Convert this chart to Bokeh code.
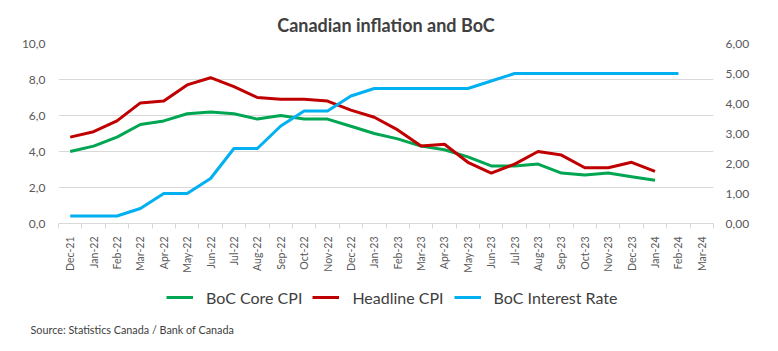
from bokeh.plotting import figure
from bokeh.models import (Range1d, LinearAxis, FixedTicker, Legend, LegendItem, Label)
from bokeh.layouts import column
from bokeh.embed import file_html
from bokeh.resources import INLINE
import math

# ---- data ----
months = ["Dec-21", "Jan-22", "Feb-22", "Mar-22", "Apr-22", "May-22", "Jun-22", "Jul-22",
          "Aug-22", "Sep-22", "Oct-22", "Nov-22", "Dec-22", "Jan-23", "Feb-23", "Mar-23",
          "Apr-23", "May-23", "Jun-23", "Jul-23", "Aug-23", "Sep-23", "Oct-23", "Nov-23",
          "Dec-23", "Jan-24", "Feb-24", "Mar-24"]
core_cpi = [4.0, 4.3, 4.8, 5.5, 5.7, 6.1, 6.2, 6.1, 5.8, 6.0, 5.8, 5.8, 5.4, 5.0, 4.7, 4.3,
            4.1, 3.7, 3.2, 3.2, 3.3, 2.8, 2.7, 2.8, 2.6, 2.4]
headline_cpi = [4.8, 5.1, 5.7, 6.7, 6.8, 7.7, 8.1, 7.6, 7.0, 6.9, 6.9, 6.8, 6.3, 5.9, 5.2, 4.3,
                4.4, 3.4, 2.8, 3.3, 4.0, 3.8, 3.1, 3.1, 3.4, 2.9]
interest_rate = [0.25, 0.25, 0.25, 0.5, 1.0, 1.0, 1.5, 2.5, 2.5, 3.25, 3.75, 3.75, 4.25, 4.5,
                 4.5, 4.5, 4.5, 4.5, 4.75, 5.0, 5.0, 5.0, 5.0, 5.0, 5.0, 5.0, 5.0]
left_ticks = [0, 2, 4, 6, 8, 10]
left_tick_labels = ["0,0", "2,0", "4,0", "6,0", "8,0", "10,0"]
right_ticks = [0, 1, 2, 3, 4, 5, 6]
right_tick_labels = ["0,00", "1,00", "2,00", "3,00", "4,00", "5,00", "6,00"]
title_text = "Canadian inflation and BoC"
source_text = "Source: Statistics Canada / Bank of Canada"
series_names = ["BoC Core CPI", "Headline CPI", "BoC Interest Rate"]
series_colors = ["#00a651", "#c00000", "#00b0f0"]

FONT = "Lato"
TXT = "#595959"
DARK = "#404040"
GRID = "#d9d9d9"

W = 778
H_TOP = 275
H_BOT = 351 - H_TOP

n = len(months)
p = figure(width=W, height=H_TOP, output_backend="svg", toolbar_location=None,
           x_range=Range1d(0, n), y_range=Range1d(0, 10),
           min_border_left=58, min_border_right=65, min_border_top=43,
           min_border_bottom=H_TOP - 224,
           outline_line_color=None, background_fill_color="white", border_fill_color="white")
p.frame_align = False
p.extra_y_ranges = {"rate": Range1d(0, 6)}

# title
p.title.text = title_text
p.title.align = "center"
p.title.offset = 2
p.title.text_font = FONT
p.title.text_font_style = "bold"
p.title.text_font_size = "18px"
p.title.text_color = DARK
p.title.standoff = 15

xc = [i + 0.5 for i in range(n)]

r1 = p.line(xc[:len(core_cpi)], core_cpi, line_color=series_colors[0], line_width=3,
            line_join="round")
r2 = p.line(xc[:len(headline_cpi)], headline_cpi, line_color=series_colors[1], line_width=3,
            line_join="round")
r3 = p.line(xc[:len(interest_rate)], interest_rate, line_color=series_colors[2], line_width=3,
            line_join="round", y_range_name="rate")

# x axis
xa = p.xaxis[0]
xa.ticker = FixedTicker(ticks=xc, minor_ticks=list(range(n + 1)))
xa.major_label_overrides = {x: m for x, m in zip(xc, months)}
xa.major_label_orientation = math.pi / 2
xa.major_tick_line_color = None
xa.major_tick_out = 0
xa.major_tick_in = 0
xa.minor_tick_line_color = GRID
xa.minor_tick_in = 0
xa.minor_tick_out = 5
xa.axis_line_color = GRID
xa.major_label_text_font = FONT
xa.major_label_text_font_size = "10.5px"
xa.major_label_text_color = TXT
xa.major_label_standoff = 8
p.xgrid.visible = False

# left axis
ya = p.yaxis[0]
ya.ticker = FixedTicker(ticks=left_ticks)
ya.major_label_overrides = {t: s for t, s in zip(left_ticks, left_tick_labels)}
ya.axis_line_color = None
ya.major_tick_line_color = None
ya.major_tick_out = 0
ya.major_tick_in = 0
ya.minor_tick_line_color = None
ya.major_label_text_font = FONT
ya.major_label_text_font_size = "12px"
ya.major_label_text_color = TXT
ya.major_label_standoff = 13
p.ygrid.ticker = FixedTicker(ticks=left_ticks)
p.ygrid.grid_line_color = GRID

# right axis
ra = LinearAxis(y_range_name="rate", ticker=FixedTicker(ticks=right_ticks))
ra.major_label_overrides = {t: s for t, s in zip(right_ticks, right_tick_labels)}
ra.axis_line_color = None
ra.major_tick_line_color = None
ra.major_tick_out = 0
ra.major_tick_in = 0
ra.minor_tick_line_color = None
ra.major_label_text_font = FONT
ra.major_label_text_font_size = "12px"
ra.major_label_text_color = TXT
ra.major_label_standoff = 12
p.add_layout(ra, "right")

# ---- bottom strip: legend + source (page pixel coordinates) ----
p2 = figure(width=W, height=H_BOT, output_backend="svg", toolbar_location=None,
            x_range=Range1d(0, W), y_range=Range1d(351, H_TOP),
            x_axis_type=None, y_axis_type=None,
            min_border=0, min_border_left=0, min_border_right=0,
            min_border_top=0, min_border_bottom=0,
            outline_line_color=None, background_fill_color="white", border_fill_color="white")
p2.frame_align = False
p2.xgrid.visible = False
p2.ygrid.visible = False

# invisible proxy renderers (outside the view) that only feed the legend glyphs
dummies = [p2.line(x=[-20, -10], y=[400, 400], line_color=c, line_width=3)
           for c in series_colors]
legend = Legend(items=[LegendItem(label=nm, renderers=[r]) for nm, r in zip(series_names, dummies)],
                orientation="horizontal", location=(166, 351 - 307),
                label_text_font=FONT, label_text_font_size="16px", label_text_color=DARK,
                glyph_width=27, glyph_height=20, label_standoff=13, spacing=10,
                padding=0, margin=0, border_line_color=None, background_fill_alpha=0,
                label_height=20)
p2.add_layout(legend, "center")

p2.add_layout(Label(x=30, y=329, text=source_text, text_font=FONT, text_font_size="10.8px",
                    text_color=DARK, text_align="left", text_baseline="middle"))

open("out.html", "w").write(file_html(column(p, p2, spacing=0), INLINE))
